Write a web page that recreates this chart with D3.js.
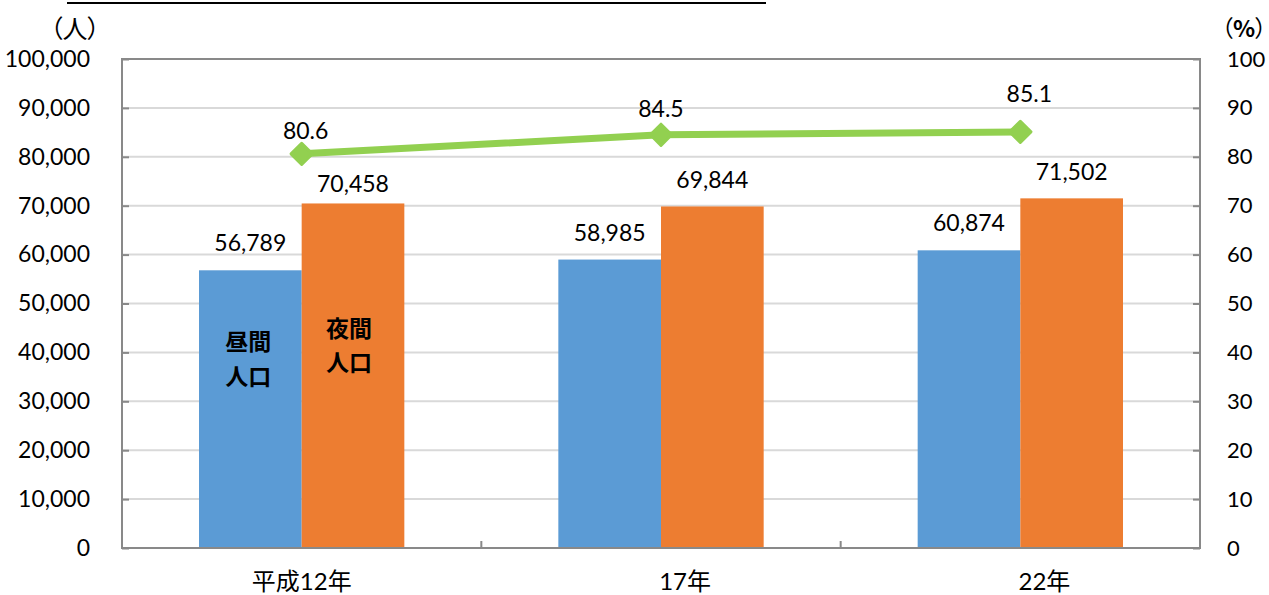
<!DOCTYPE html>
<html>
<head>
<meta charset="utf-8">
<script src="https://cdn.jsdelivr.net/npm/d3@7"></script>
<style>
  html, body { margin: 0; padding: 0; background: #fff; }
  svg { display: block; }
  text { font-family: "Lato", "Noto Sans CJK JP", sans-serif; fill: #000; }
  .unit { font-family: "Noto Sans CJK JP", sans-serif; font-feature-settings: "palt" 1; }
</style>
</head>
<body>
<svg id="chart" width="1269" height="595"></svg>
<script>
// Years (category labels)
const categories = ["平成12年", "17年", "22年"];
// 昼間人口 (daytime population)
const daytime = [56789, 58985, 60874];
// 夜間人口 (nighttime population)
const nighttime = [70458, 69844, 71502];
// 昼夜間人口比率 (%)
const ratio = [80.6, 84.5, 85.1];
// Axis ticks
const leftTicks = [0, 10000, 20000, 30000, 40000, 50000, 60000, 70000, 80000, 90000, 100000];
const rightTicks = [0, 10, 20, 30, 40, 50, 60, 70, 80, 90, 100];

const svg = d3.select("#chart");
const plot = { left: 122, right: 1200, top: 59, bottom: 548 };

const x = d3.scaleBand().domain(categories).range([plot.left, plot.right]).paddingInner(0).paddingOuter(0);
const yL = d3.scaleLinear().domain([0, 100000]).range([plot.bottom, plot.top]);
const yR = d3.scaleLinear().domain([0, 100]).range([plot.bottom, plot.top]);

const barW = x.bandwidth() / 3.5;   // gap width 150%
const fmt = d3.format(",");
const FS = 23;

const blue = "#5b9bd5", orange = "#ed7d31", green = "#92d050";
const axisGrey = "#898989", gridGrey = "#d9d9d9";

// Rule across the top
svg.append("line").attr("x1", 67).attr("x2", 766).attr("y1", 3).attr("y2", 3)
  .attr("stroke", "#000").attr("stroke-width", 2);

// Gridlines
svg.append("g").selectAll("line").data(leftTicks.filter(d => d > 0 && d < 100000)).join("line")
  .attr("x1", plot.left).attr("x2", plot.right)
  .attr("y1", d => yL(d)).attr("y2", d => yL(d))
  .attr("stroke", gridGrey).attr("stroke-width", 2);

// Bars
const cx = c => x(c) + x.bandwidth() / 2;
svg.append("g").selectAll("rect").data(categories).join("rect")
  .attr("x", c => cx(c) - barW).attr("width", barW)
  .attr("y", (c, i) => yL(daytime[i])).attr("height", (c, i) => yL(0) - yL(daytime[i]))
  .attr("fill", blue);
svg.append("g").selectAll("rect").data(categories).join("rect")
  .attr("x", c => cx(c)).attr("width", barW)
  .attr("y", (c, i) => yL(nighttime[i])).attr("height", (c, i) => yL(0) - yL(nighttime[i]))
  .attr("fill", orange);

// Plot frame
svg.append("rect").attr("x", plot.left).attr("y", plot.top)
  .attr("width", plot.right - plot.left).attr("height", plot.bottom - plot.top)
  .attr("fill", "none").attr("stroke", axisGrey).attr("stroke-width", 2);

// Left axis (ticks pointing inward)
const leftAxis = d3.axisLeft(yL).tickValues(leftTicks).tickSize(-7).tickFormat(fmt).tickPadding(32);
const gL = svg.append("g").attr("transform", `translate(${plot.left},0)`).call(leftAxis);
gL.select(".domain").remove();
gL.selectAll(".tick line").attr("stroke", axisGrey).attr("stroke-width", 2);
gL.selectAll(".tick text").attr("font-size", FS).attr("font-family", "Lato").attr("fill", "#000");

// Right axis
const rightAxis = d3.axisRight(yR).tickValues(rightTicks).tickSize(-7).tickFormat(d3.format("d")).tickPadding(27);
const gR = svg.append("g").attr("transform", `translate(${plot.right},0)`).call(rightAxis);
gR.select(".domain").remove();
gR.selectAll(".tick line").attr("stroke", axisGrey).attr("stroke-width", 2);
gR.selectAll(".tick text").attr("font-size", 22).attr("font-family", "Lato").attr("fill", "#000");

// Category separators on the bottom axis
svg.append("g").selectAll("line").data(categories.slice(1)).join("line")
  .attr("x1", c => x(c)).attr("x2", c => x(c))
  .attr("y1", plot.bottom).attr("y2", plot.bottom - 7)
  .attr("stroke", axisGrey).attr("stroke-width", 2);

// Category labels
svg.append("g").selectAll("text").data(categories).join("text")
  .attr("x", c => cx(c) + 50).attr("y", 590)
  .attr("text-anchor", "end").attr("font-size", 24)
  .text(c => c);

// Bar value labels (the first nighttime label sits lower to clear the line marker)
const nightLift = [11, 18, 18];
svg.append("g").selectAll("text").data(categories).join("text")
  .attr("x", c => cx(c) - barW / 2).attr("y", (c, i) => yL(daytime[i]) - 19)
  .attr("text-anchor", "middle").attr("font-size", FS)
  .text((c, i) => fmt(daytime[i]));
svg.append("g").selectAll("text").data(categories).join("text")
  .attr("x", c => cx(c) + barW / 2).attr("y", (c, i) => yL(nighttime[i]) - nightLift[i])
  .attr("text-anchor", "middle").attr("font-size", FS)
  .text((c, i) => fmt(nighttime[i]));

// Ratio line with diamond markers
const line = d3.line().x((d, i) => cx(categories[i])).y(d => yR(d));
svg.append("path").datum(ratio).attr("d", line)
  .attr("fill", "none").attr("stroke", green).attr("stroke-width", 7);
svg.append("g").selectAll("path").data(ratio).join("path")
  .attr("transform", (d, i) => `translate(${cx(categories[i])},${yR(d)}) rotate(45)`)
  .attr("d", "M-7.5,-7.5H7.5V7.5H-7.5Z")
  .attr("fill", green).attr("stroke", green).attr("stroke-width", 3).attr("stroke-linejoin", "round");

// Ratio labels, placed by hand above each marker
const ratioDx = [4, 0, 9];
const ratioLift = [15, 18, 30];
svg.append("g").selectAll("text").data(ratio).join("text")
  .attr("x", (d, i) => cx(categories[i]) + ratioDx[i]).attr("y", (d, i) => yR(d) - ratioLift[i])
  .attr("text-anchor", "middle").attr("font-size", FS)
  .text(d => d.toFixed(1));

// Series names inside the first pair of bars
const c0 = cx(categories[0]);
const inner = svg.append("g").attr("font-size", 23).attr("font-weight", "bold")
  .attr("text-anchor", "middle").attr("font-family", "Noto Sans CJK JP");
inner.append("text").attr("x", c0 - barW / 2 - 2).attr("y", 350).text("昼間");
inner.append("text").attr("x", c0 - barW / 2 - 2).attr("y", 385).text("人口");
inner.append("text").attr("x", c0 + barW / 2 - 4).attr("y", 337).text("夜間");
inner.append("text").attr("x", c0 + barW / 2 - 4).attr("y", 371).text("人口");

// Unit labels
svg.append("text").attr("class", "unit").attr("x", 75).attr("y", 38).attr("text-anchor", "middle")
  .attr("font-size", 25).text("（人）");
const pct = svg.append("text").attr("class", "unit").attr("x", 1244).attr("y", 37)
  .attr("text-anchor", "middle").attr("font-size", 23);
pct.append("tspan").text("（");
pct.append("tspan").attr("font-weight", "bold").text("%");
pct.append("tspan").text("）");
</script>
</body>
</html>
